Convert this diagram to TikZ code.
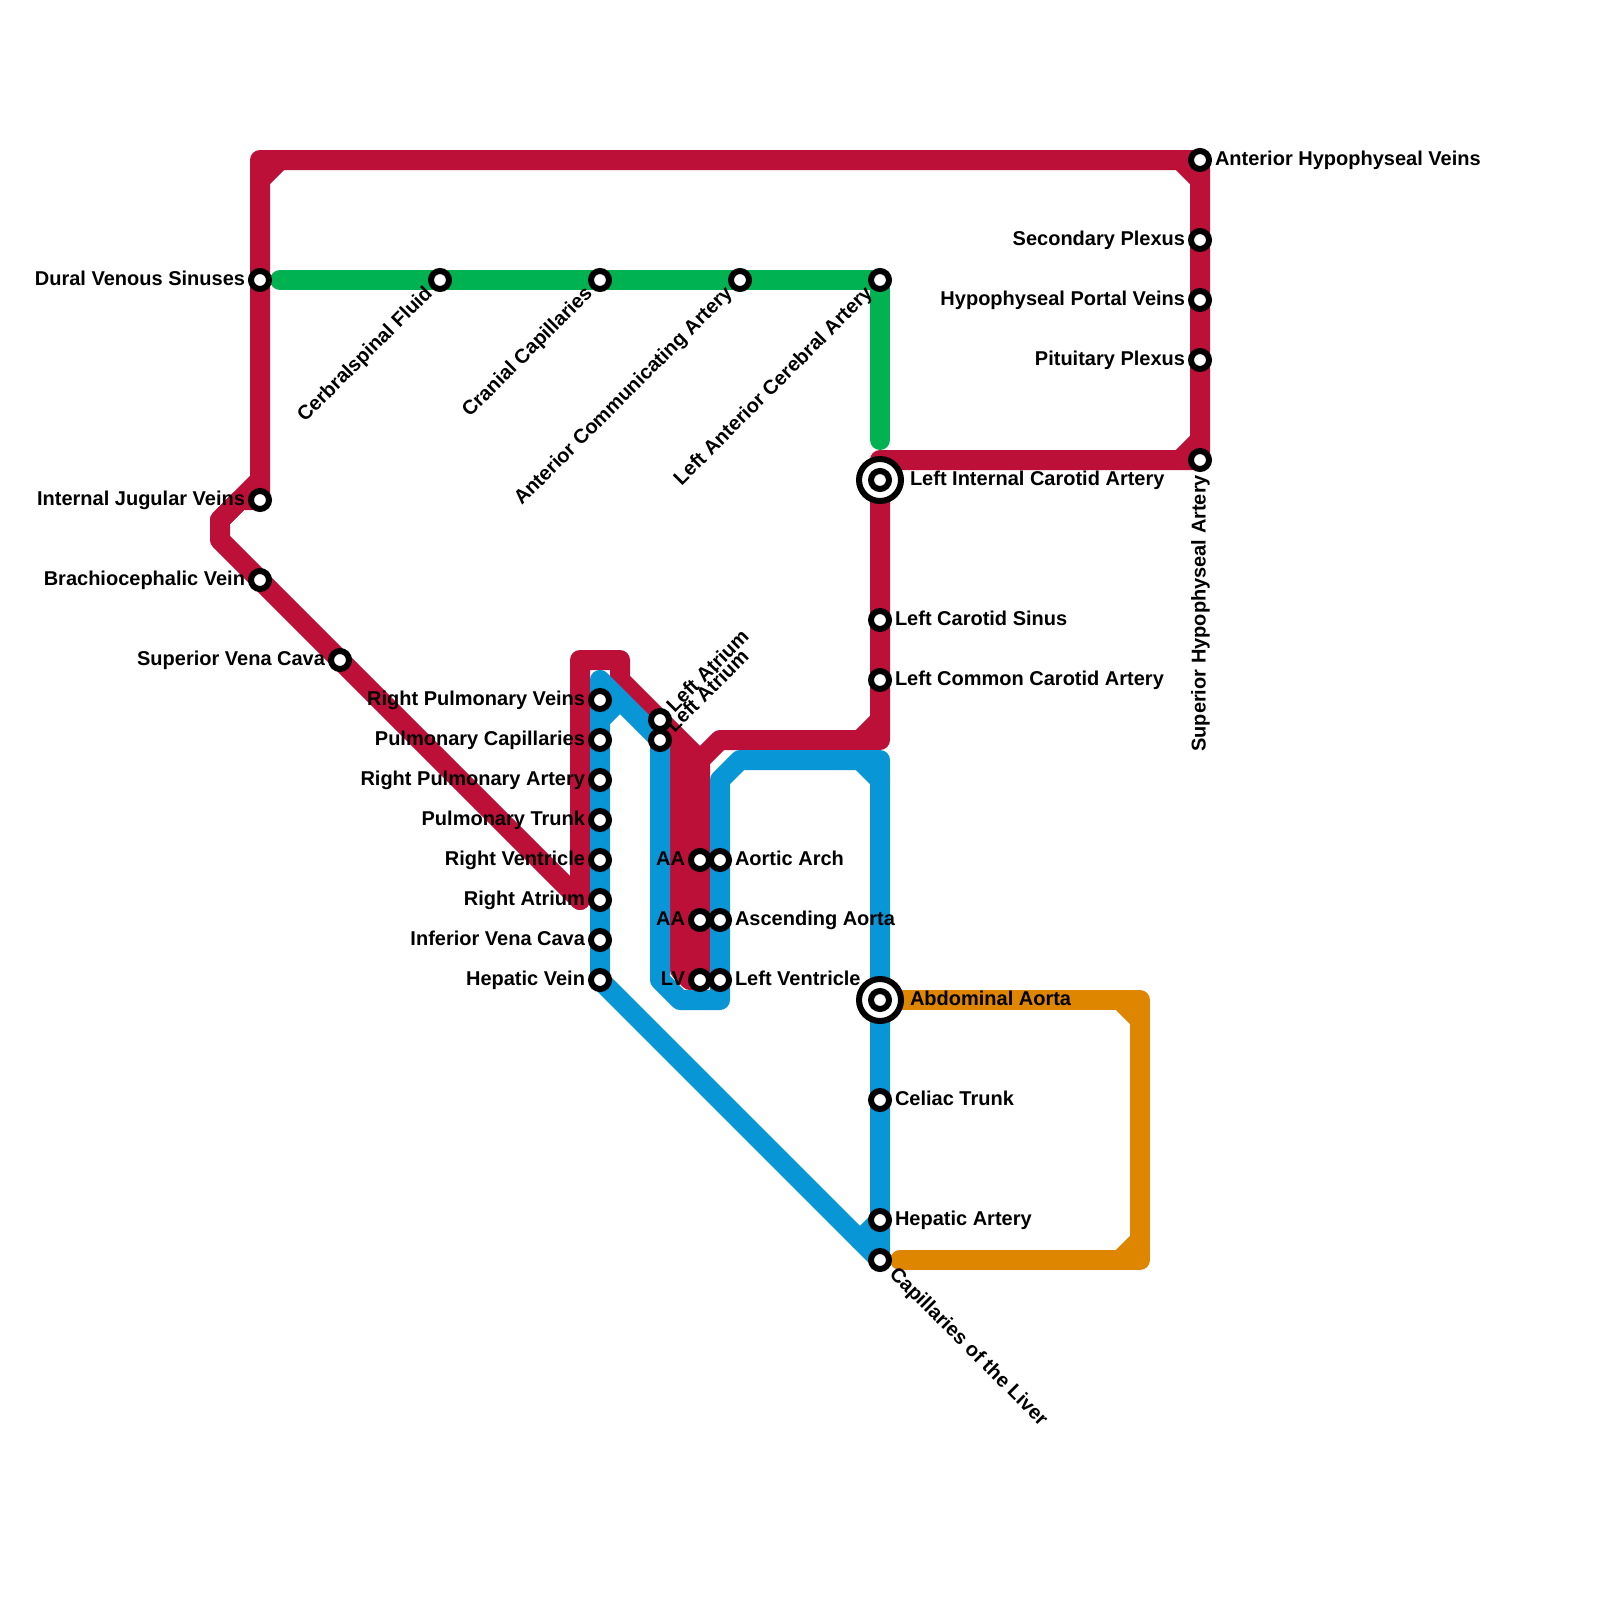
\documentclass[tikz,border=0pt]{standalone}
\usepackage{fontspec}
\setmainfont{Liberation Sans}
\usetikzlibrary{calc}
\definecolor{cred}{HTML}{BD1038}
\definecolor{cblue}{HTML}{0896D7}
\definecolor{cgreen}{HTML}{00B251}
\definecolor{corange}{HTML}{DF8600}
\pgfdeclarelayer{lines}
\pgfsetlayers{lines,main}
\tikzset{
  metro/.style={line width=20pt,line cap=round,line join=round},
  stn/.style={circle,draw=black,fill=white,line width=6pt,minimum size=18pt,inner sep=0pt,outer sep=0pt},
  bigstn/.style={circle,draw=black,fill=white,line width=6pt,minimum size=42pt,inner sep=0pt,outer sep=0pt},
  lab/.style={font=\fontsize{20}{22}\selectfont\bfseries,inner sep=0pt,outer sep=0pt,text=black},
}
% station + label to the left / right / rotated
\newcommand\stL[4]{\node[stn] (#1) at (#2,#3) {};\node[lab,anchor=base east] (#1-t) at ($(#2,#3)+(-15,5.5)$) {#4};}
\newcommand\stR[4]{\node[stn] (#1) at (#2,#3) {};\node[lab,anchor=base west] (#1-t) at ($(#2,#3)+(15,5.5)$) {#4};}
\newcommand\stBig[4]{\node[bigstn] (#1-o) at (#2,#3) {};\node[stn] (#1) at (#2,#3) {};\node[lab,anchor=base west] (#1-t) at ($(#2,#3)+(30,5.5)$) {#4};}
\newcommand\stUL[4]{\node[stn] (#1) at (#2,#3) {};\node[lab,anchor=base east,rotate=45] (#1-t) at ($(#2,#3)+(-6.7,14.5)$) {#4};}
\newcommand\stUR[4]{\node[stn] (#1) at (#2,#3) {};\node[lab,anchor=base west,rotate=45] (#1-t) at ($(#2,#3)+(14.5,-6.7)$) {#4};}
\begin{document}
\begin{tikzpicture}[x=1pt,y=-1pt]
\useasboundingbox (0,0) rectangle (1600,1600);
% stations
\stL{dural}{260}{280}{Dural Venous Sinuses}
\stL{ijv}{260}{500}{Internal Jugular Veins}
\stL{brach}{260}{580}{Brachiocephalic Vein}
\stL{svc}{340}{660}{Superior Vena Cava}
\stUL{cbf}{440}{280}{Cerbralspinal Fluid}
\stUL{cc}{600}{280}{Cranial Capillaries}
\stUL{aca}{740}{280}{Anterior Communicating Artery}
\stUL{laca}{880}{280}{Left Anterior Cerebral Artery}
\stL{rpv}{600}{700}{Right Pulmonary Veins}
\stL{pc}{600}{740}{Pulmonary Capillaries}
\stL{rpa}{600}{780}{Right Pulmonary Artery}
\stL{pt}{600}{820}{Pulmonary Trunk}
\stL{rv}{600}{860}{Right Ventricle}
\stL{ra}{600}{900}{Right Atrium}
\stL{ivc}{600}{940}{Inferior Vena Cava}
\stL{hv}{600}{980}{Hepatic Vein}
\stUR{la1}{660}{720}{Left Atrium}
\stUR{la2}{660}{740}{Left Atrium}
\stL{aa1}{700}{860}{AA}
\stL{aa2}{700}{920}{AA}
\stL{lv}{700}{980}{LV}
\stR{arch}{720}{860}{Aortic Arch}
\stR{asc}{720}{920}{Ascending Aorta}
\stR{lvb}{720}{980}{Left Ventricle}
\stBig{lica}{880}{480}{Left Internal Carotid Artery}
\stR{lcs}{880}{620}{Left Carotid Sinus}
\stR{lcca}{880}{680}{Left Common Carotid Artery}
\stBig{absa}{880}{1000}{Abdominal Aorta}
\stR{celiac}{880}{1100}{Celiac Trunk}
\stR{hepa}{880}{1220}{Hepatic Artery}
\node[stn] (cap) at (880,1260) {};
\node[lab,anchor=base west,rotate=-45] (cap-t) at ($(880,1260)+(8.5,15)$) {Capillaries of the Liver};
\stR{ahv}{1200}{160}{Anterior Hypophyseal Veins}
\stL{sp}{1200}{240}{Secondary Plexus}
\stL{hpv}{1200}{300}{Hypophyseal Portal Veins}
\stL{pp}{1200}{360}{Pituitary Plexus}
\node[stn] (sha) at (1200,460) {};
\node[lab,anchor=base east,rotate=90] (sha-t) at ($(1200,460)+(5.5,15)$) {Superior Hypophyseal Artery};
% bend points
\coordinate (r1) at (260,160);
\coordinate (r1a) at (260,180);
\coordinate (r1b) at (280,160);
\coordinate (r2a) at (1180,160);
\coordinate (r2b) at (1200,180);
\coordinate (r3) at (880,460);
\coordinate (r3a) at (1180,460);
\coordinate (r3b) at (1200,440);
\coordinate (r4) at (880,740);
\coordinate (r4a) at (860,740);
\coordinate (r4b) at (880,720);
\coordinate (r5) at (720,740);
\coordinate (r6) at (700,760);
\coordinate (r7) at (680,740);
\coordinate (r8) at (620,680);
\coordinate (r9) at (620,660);
\coordinate (r10) at (580,660);
\coordinate (r11) at (580,900);
\coordinate (r12) at (680,970);
\coordinate (r13) at (690,980);
\coordinate (r14) at (240,500);
\coordinate (r15) at (220,520);
\coordinate (r16) at (220,540);
\coordinate (r17) at (260,480);
\coordinate (b1) at (600,680);
\coordinate (b2) at (660,980);
\coordinate (b3) at (680,1000);
\coordinate (b4) at (720,1000);
\coordinate (b5) at (720,780);
\coordinate (b6) at (740,760);
\coordinate (b7) at (880,760);
\coordinate (b7a) at (860,760);
\coordinate (b7b) at (880,780);
\coordinate (b8) at (620,700);
\coordinate (b9) at (600,720);
\coordinate (b10) at (860,1240);
\coordinate (g1) at (280,280);
\coordinate (g2) at (880,440);
\coordinate (o1) at (1140,1000);
\coordinate (o1a) at (1120,1000);
\coordinate (o1b) at (1140,1020);
\coordinate (o2) at (1140,1260);
\coordinate (o2a) at (1120,1260);
\coordinate (o2b) at (1140,1240);
\coordinate (o3) at (900,1260);
\begin{pgfonlayer}{lines}
\fill[white] (0,0) rectangle (1600,1600);
% orange
\draw[metro,corange] (absa.center) -- (o1) -- (o2) -- (o3);
\draw[metro,corange] (o1a) -- (o1b) (o2a) -- (o2b);
% green
\draw[metro,cgreen] (g1) -- (cbf.center) -- (cc.center) -- (aca.center) -- (laca.center) -- (g2);
% red
\draw[metro,cred] (r11) -- (r10) -- (r9) -- (r8) -- (r6) -- (aa1.center) -- (aa2.center) -- (lv.center) -- (r13) -- (r12) -- (r7);
\draw[metro,cred] (r6) -- (r5) -- (r4) -- (lcca.center) -- (lcs.center) -- (lica.center) -- (r3) -- (sha.center) -- (pp.center) -- (hpv.center) -- (sp.center) -- (ahv.center) -- (r1) -- (dural.center) -- (ijv.center) -- (r14) -- (r15) -- (r16) -- (brach.center) -- (svc.center) -- (r11);
\draw[metro,cred] (r1a) -- (r1b) (r2a) -- (r2b) (r3a) -- (r3b) (r4a) -- (r4b) (r17) -- (r15);
% blue
\draw[metro,cblue] (hv.center) -- (ivc.center) -- (ra.center) -- (rv.center) -- (pt.center) -- (rpa.center) -- (pc.center) -- (rpv.center) -- (b1) -- (la2.center) -- (b2) -- (b3) -- (b4) -- (lvb.center) -- (asc.center) -- (arch.center) -- (b5) -- (b6) -- (b7) -- (absa.center) -- (celiac.center) -- (hepa.center) -- (cap.center) -- (hv.center);
\draw[metro,cblue] (b7a) -- (b7b) (b8) -- (b9) (hepa.center) -- (b10);
\end{pgfonlayer}
\end{tikzpicture}
\end{document}
